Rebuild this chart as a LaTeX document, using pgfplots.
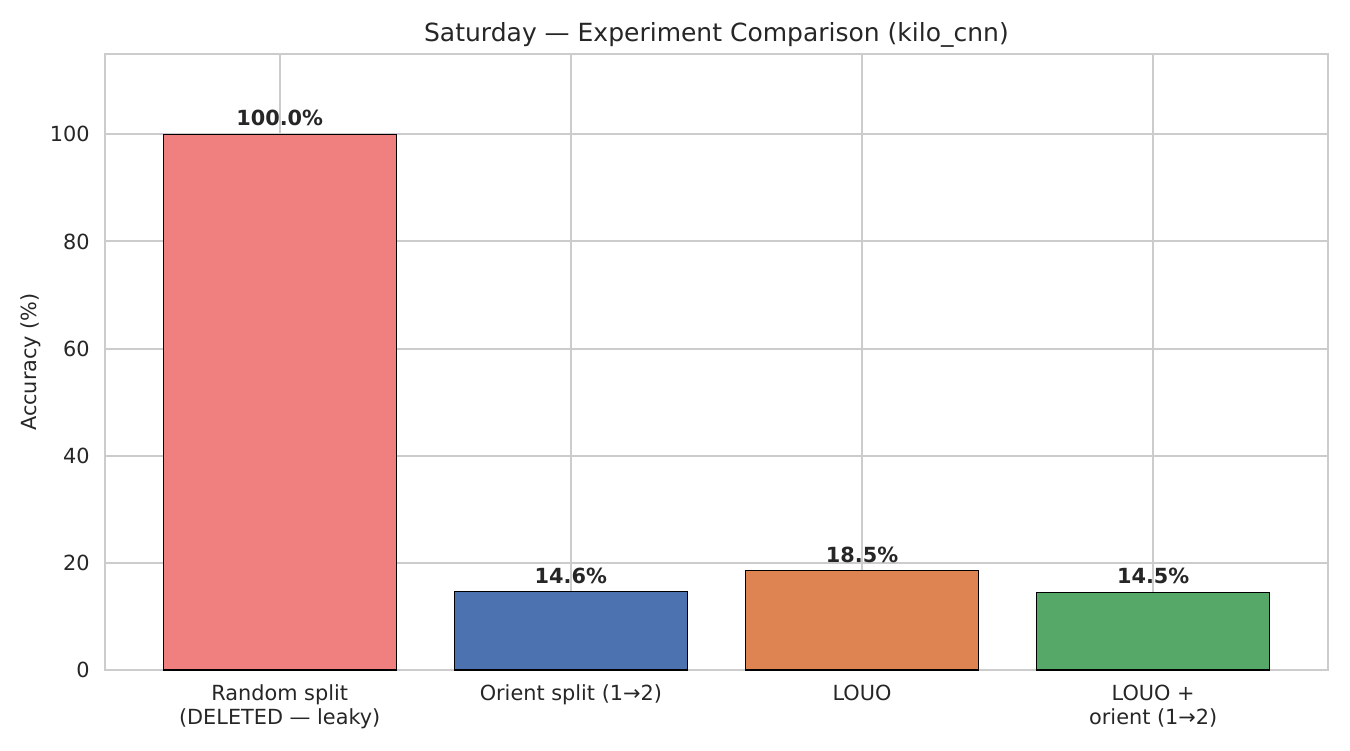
\documentclass[border=0pt]{standalone}
\usepackage{pgfplots}
\pgfplotsset{compat=1.18}
\usepackage{fontspec}
\setmainfont{DejaVu Sans}

\definecolor{txt}{HTML}{262626}
\definecolor{gridc}{HTML}{CCCCCC}
\definecolor{barred}{HTML}{F08080}
\definecolor{barblue}{HTML}{4C72B0}
\definecolor{barorange}{HTML}{DD8452}
\definecolor{bargreen}{HTML}{55A868}

\begin{document}
\begin{tikzpicture}
\useasboundingbox (-50.4pt,-38.4pt) rectangle (597.6pt,321.6pt);
\begin{axis}[
  at={(0pt,0pt)}, anchor=south west,
  scale only axis, width=587pt, height=295.7pt,
  /pgf/number format/assume math mode=true,
  ybar, bar width=0.8,
  xmin=-0.6, xmax=3.6, ymin=0, ymax=115,
  xtick={0,1,2,3},
  xticklabels={{Random split\\(DELETED — leaky)},{Orient split (1→2)},{LOUO},{LOUO +\\orient (1→2)}},
  ytick={0,20,40,60,80,100},
  major tick length=0pt,
  xmajorgrids, ymajorgrids,
  grid style={draw=gridc, line width=1pt},
  axis line style={draw=gridc, line width=1.25pt},
  tick label style={font=\fontsize{10}{11.5}\selectfont, text=txt},
  xticklabel style={align=center, anchor=north, inner sep=0pt, yshift=-7pt},
  yticklabel style={anchor=east, inner sep=0pt, xshift=-7.2pt},
  every axis title shift=0pt,
  title={Saturday — Experiment Comparison (kilo\_cnn)},
  title style={font=\fontsize{12}{14}\selectfont, text=txt, at={(axis description cs:0.5,1)}, anchor=base, inner sep=0pt, yshift=5.8pt},
  ylabel={Accuracy (\%)},
  ylabel style={font=\fontsize{10}{12}\selectfont, text=txt, at={(axis description cs:0,0.5)}, anchor=center, inner sep=0pt, yshift=35.5pt},
  nodes near coords={\pgfmathprintnumber[fixed,fixed zerofill,precision=1]{\pgfplotspointmeta}\%},
  nodes near coords style={font=\bfseries\fontsize{10}{12}\selectfont, text=txt, anchor=south, inner sep=0pt, yshift=3.8pt},
]
\addplot[bar shift=0pt, fill=barred, draw=black, line width=0.5pt] coordinates {(0,100.0)};
\addplot[bar shift=0pt, fill=barblue, draw=black, line width=0.5pt] coordinates {(1,14.6)};
\addplot[bar shift=0pt, fill=barorange, draw=black, line width=0.5pt] coordinates {(2,18.5)};
\addplot[bar shift=0pt, fill=bargreen, draw=black, line width=0.5pt] coordinates {(3,14.5)};
\end{axis}
\end{tikzpicture}
\end{document}
